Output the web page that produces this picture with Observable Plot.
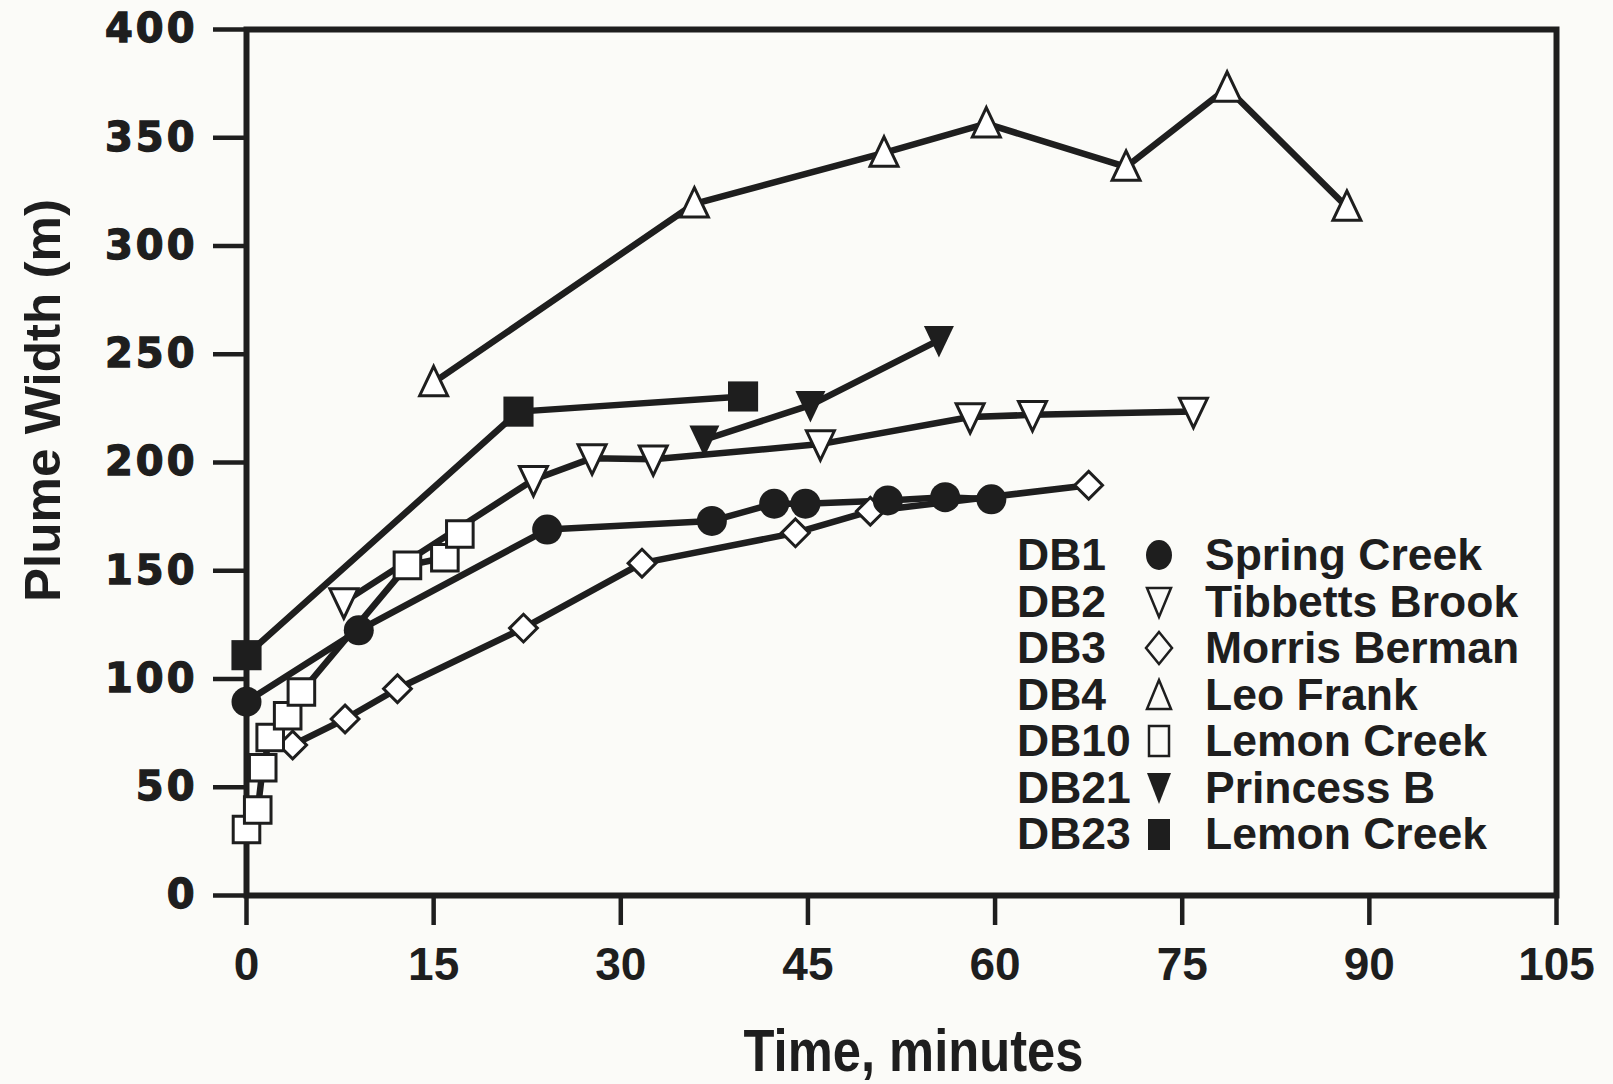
<!DOCTYPE html>
<html>
<head>
<meta charset="utf-8">
<script src="https://cdn.jsdelivr.net/npm/d3@7"></script>
<script src="https://cdn.jsdelivr.net/npm/@observablehq/plot@0.6"></script>
<style>
  html, body { margin: 0; padding: 0; background: #fbfbf8; }
  #wrap { position: relative; width: 1613px; height: 1084px; overflow: hidden; }
  #legend { position: absolute; left: 1017px; top: 532px; font-family: "Liberation Sans", Arial, sans-serif; font-weight: bold; font-size: 44.5px; color: #1e1e1e; }
  .lrow { position: relative; height: 46.5px; line-height: 46.5px; white-space: nowrap; }
  .lcode { position: absolute; left: 0; top: 0; }
  .lsym { position: absolute; left: 122px; top: 5px; }
  .lname { position: absolute; left: 188px; top: 0; }
</style>
</head>
<body>
<div id="wrap"></div>
<script>
// ---- data ----
const xTicks = [0, 15, 30, 45, 60, 75, 90, 105];
const yTicks = [0, 50, 100, 150, 200, 250, 300, 350, 400];

const db1Time  = [0, 9.0, 24.1, 37.3, 42.3, 44.8, 51.4, 56.0, 59.7];
const db1Width = [89.5, 122.5, 169, 173, 181, 181, 182.5, 184, 183];

const db2Time  = [7.8, 23.0, 27.7, 32.6, 46.0, 58.0, 63.0, 75.9];
const db2Width = [135.5, 192, 202, 201.5, 208.5, 221, 222, 223.5];

const db3Time  = [3.7, 7.9, 12.1, 22.2, 31.7, 44.0, 50.0, 67.5];
const db3Width = [69.5, 81.5, 95.5, 123.5, 153.5, 167.5, 177.5, 189.5];

const db4Time  = [15.0, 35.9, 51.1, 59.3, 70.5, 78.6, 88.2];
const db4Width = [237, 319.5, 343, 356.5, 336.5, 373, 318];

const db10Time  = [0, 0.9, 1.3, 1.9, 3.3, 4.4, 12.9, 15.9, 17.1];
const db10Width = [30.5, 39.5, 59, 73, 83, 94, 152.5, 156, 167];

const db21Time  = [36.7, 45.2, 55.5];
const db21Width = [210.5, 226.5, 256.5];

const db23Time  = [0, 21.8, 39.8];
const db23Width = [111, 223.5, 230.5];

const legendCodes = ["DB1", "DB2", "DB3", "DB4", "DB10", "DB21", "DB23"];
const legendNames = ["Spring Creek", "Tibbetts Brook", "Morris Berman", "Leo Frank", "Lemon Creek", "Princess B", "Lemon Creek"];

const xLabel = "Time, minutes";
const yLabel = "Plume Width (m)";

// ---- build table ----
function series(code, times, widths) {
  return times.map((t, i) => ({series: code, t, w: widths[i]}));
}
const rows = [
  ...series("DB1", db1Time, db1Width),
  ...series("DB2", db2Time, db2Width),
  ...series("DB3", db3Time, db3Width),
  ...series("DB4", db4Time, db4Width),
  ...series("DB10", db10Time, db10Width),
  ...series("DB21", db21Time, db21Width),
  ...series("DB23", db23Time, db23Width)
];

const INK = "#1e1e1e";

const triUp = {
  draw(ctx, size) {
    const r = Math.sqrt(size / Math.PI);
    ctx.moveTo(0, -1.15 * r);
    ctx.lineTo(r, 0.95 * r);
    ctx.lineTo(-r, 0.95 * r);
    ctx.closePath();
  }
};
const triDown = {
  draw(ctx, size) {
    const r = Math.sqrt(size / Math.PI);
    ctx.moveTo(0, 1.15 * r);
    ctx.lineTo(r, -0.95 * r);
    ctx.lineTo(-r, -0.95 * r);
    ctx.closePath();
  }
};

const only = code => d => d.series === code;

const chart = Plot.plot({
  width: 1613,
  height: 1084,
  marginLeft: 246,
  marginRight: 57,
  marginTop: 29,
  marginBottom: 189,
  style: {background: "#fbfbf8", color: INK, fontFamily: "Liberation Sans, Arial, sans-serif"},
  x: {domain: [0, 105]},
  y: {domain: [0, 400]},
  marks: [
    Plot.axisY({ticks: yTicks, tickSize: 33, tickPadding: 16, strokeWidth: 4.5, fontSize: 40, fontWeight: "bold",
      fontFamily: "DejaVu Sans", label: null, tickFormat: d => String(d)}),
    Plot.axisX({ticks: xTicks, tickSize: 30, tickPadding: 22, strokeWidth: 4.5, fontSize: 46, fontWeight: "bold",
      fontFamily: "Liberation Sans", label: null, tickFormat: d => String(d)}),
    Plot.frame({stroke: INK, strokeWidth: 6}),
    Plot.line(rows, {x: "t", y: "w", z: "series", stroke: INK, strokeWidth: 6.5, strokeLinejoin: "round"}),
    Plot.dot(rows, {filter: only("DB3"), x: "t", y: "w", symbol: "diamond2", r: 12.5, fill: "white", stroke: INK, strokeWidth: 3}),
    Plot.dot(rows, {filter: only("DB1"), x: "t", y: "w", symbol: "circle", r: 15, fill: INK}),
    Plot.dot(rows, {filter: only("DB2"), x: "t", y: "w", symbol: triDown, r: 14, fill: "white", stroke: INK, strokeWidth: 3}),
    Plot.dot(rows, {filter: only("DB4"), x: "t", y: "w", symbol: triUp, r: 14, fill: "white", stroke: INK, strokeWidth: 3}),
    Plot.dot(rows, {filter: only("DB10"), x: "t", y: "w", symbol: "square", r: 15, fill: "white", stroke: INK, strokeWidth: 3}),
    Plot.dot(rows, {filter: only("DB21"), x: "t", y: "w", symbol: triDown, r: 15, fill: INK}),
    Plot.dot(rows, {filter: only("DB23"), x: "t", y: "w", symbol: "square", r: 17, fill: INK}),
    Plot.text([xLabel], {frameAnchor: "bottom", dx: 12, dy: 175, fontSize: 60, fontWeight: "bold",
      fontFamily: "Liberation Sans", fill: INK, textAnchor: "middle"}),
    Plot.text([yLabel], {frameAnchor: "left", dx: -203, dy: -62, rotate: -90, fontSize: 50, fontWeight: "bold",
      fontFamily: "Liberation Sans", fill: INK, textAnchor: "middle"})
  ]
});

// post-process text styling
chart.querySelectorAll("text").forEach(t => {
  const s = t.textContent;
  if (s === xLabel) { t.setAttribute("textLength", 340); t.setAttribute("lengthAdjust", "spacingAndGlyphs"); }
  if (s === yLabel) { t.setAttribute("textLength", 403); t.setAttribute("lengthAdjust", "spacingAndGlyphs"); }
});
const yLab = chart.querySelector('g[aria-label="y-axis tick label"]');
if (yLab) yLab.querySelectorAll("text").forEach(t => {
  t.style.letterSpacing = "3px";
  t.setAttribute("stroke", INK);
  t.setAttribute("stroke-width", "1.3");
  t.setAttribute("paint-order", "stroke");
});

const wrap = document.getElementById("wrap");
wrap.appendChild(chart);

// legend (overlay inside the frame)
const symSvg = [
  `<ellipse cx="20" cy="18" rx="13" ry="15" fill="${INK}"/>`,
  `<path d="M8 4 L32 4 L20 33 Z" fill="none" stroke="${INK}" stroke-width="2.5"/>`,
  `<path d="M20 2 L33 18 L20 34 L7 18 Z" fill="none" stroke="${INK}" stroke-width="2.5"/>`,
  `<path d="M20 3 L32 32 L8 32 Z" fill="none" stroke="${INK}" stroke-width="2.5"/>`,
  `<rect x="10" y="3" width="20" height="30" fill="none" stroke="${INK}" stroke-width="2.5"/>`,
  `<path d="M8 3 L32 3 L20 34 Z" fill="${INK}"/>`,
  `<rect x="9" y="3" width="22" height="31" fill="${INK}"/>`
];
const legend = document.createElement("div");
legend.id = "legend";
legend.innerHTML = legendCodes.map((c, i) =>
  `<div class="lrow"><span class="lcode">${c}</span>` +
  `<svg class="lsym" width="40" height="37" viewBox="0 0 40 37">${symSvg[i]}</svg>` +
  `<span class="lname">${legendNames[i]}</span></div>`).join("");
wrap.appendChild(legend);
</script>
</body>
</html>
